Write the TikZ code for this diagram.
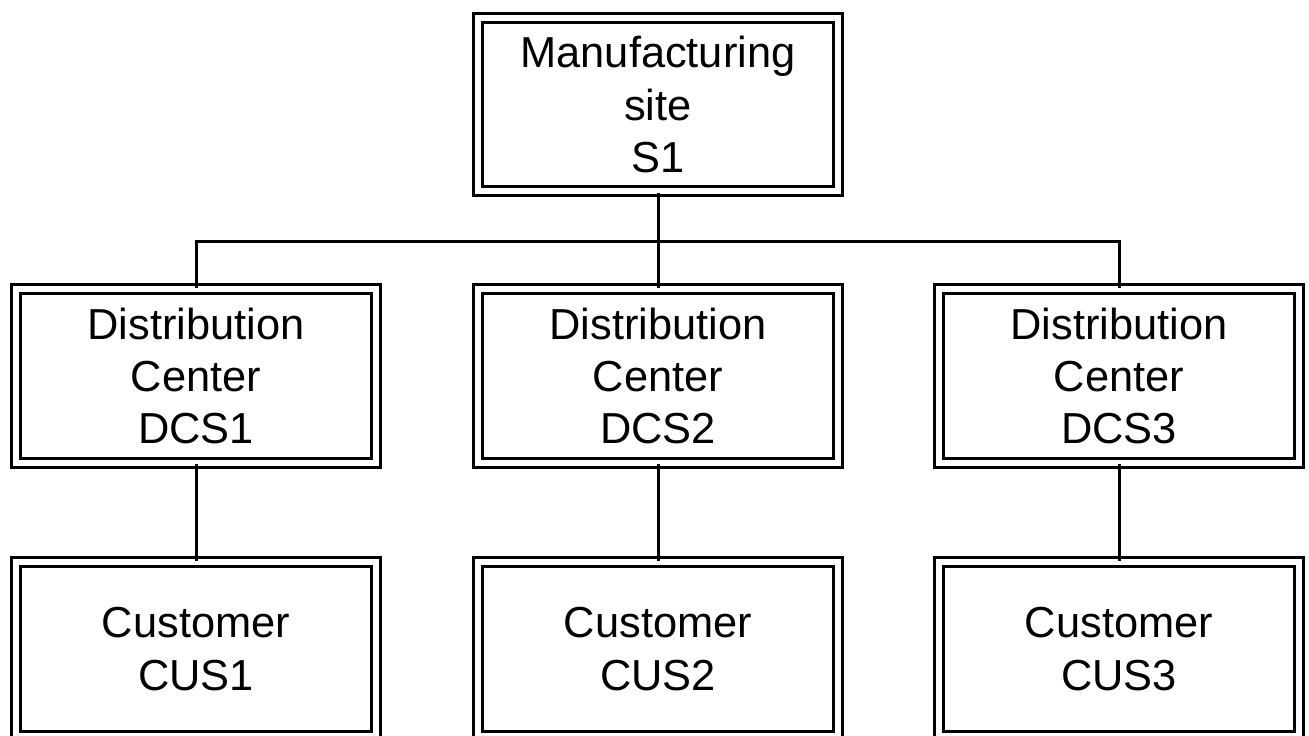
\documentclass[tikz,border=0pt]{standalone}
\usepackage{fontspec}
\setmainfont{Liberation Sans}
\usetikzlibrary{positioning}

\begin{document}
\begin{tikzpicture}[x=0.02cm,y=-0.02cm,line width=0.06cm,
  unit/.style={rectangle,draw,double,double distance=0.12cm,minimum width=7.22cm,minimum height=3.48cm,align=center,inner sep=0pt},
  every node/.style={font=\fontsize{24.7}{29.8}\selectfont}]
\useasboundingbox (0,0) rectangle (1309,735);
\clip (0,0) rectangle (1309,735);
\node[unit] (s1) at (658,104.5) {Manufacturing\\site\\S1};
\node[unit] (dcs1) at (196,376) {Distribution\\Center\\DCS1};
\node[unit] (dcs2) at (658,376) {Distribution\\Center\\DCS2};
\node[unit] (dcs3) at (1119,376) {Distribution\\Center\\DCS3};
\node[unit] (cus1) at (196,649) {Customer\\CUS1};
\node[unit] (cus2) at (658,649) {Customer\\CUS2};
\node[unit] (cus3) at (1119,649) {Customer\\CUS3};
\coordinate (bus) at (658,241);
\draw (s1.south) -- (bus);
\foreach \i in {1,2,3} {
  \draw (bus) -| (dcs\i.north);
  \draw (dcs\i.south) -- (cus\i.north);
}
\end{tikzpicture}
\end{document}
